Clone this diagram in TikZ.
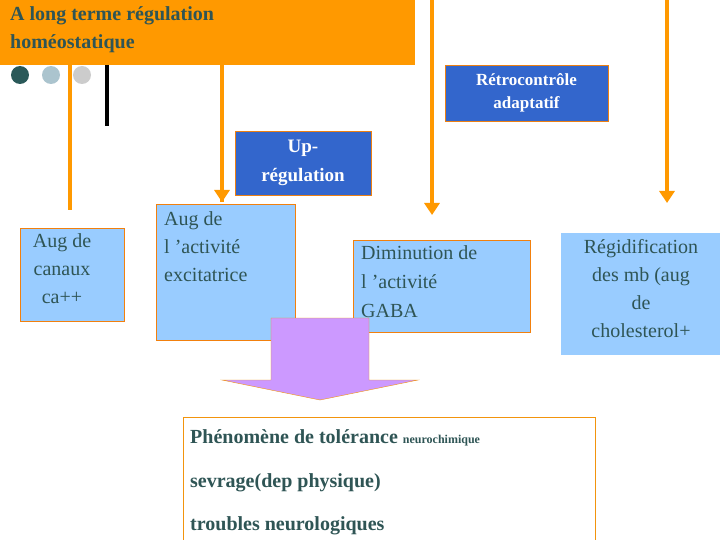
\documentclass[tikz,border=0pt]{standalone}
\usepackage{fontspec}
\setmainfont{Liberation Serif}
\begin{document}
\begin{tikzpicture}[x=1pt,y=-1pt,
  ora/.style={line width=4pt,draw=orange!90!yellow,-{Triangle[length=12pt,width=14pt]}},
  blue box/.style={draw=orange!70!brown,fill=blue!55!cyan!70!black,text=white,font=\bfseries\fontsize{17}{23}\selectfont,align=center,inner sep=0pt},
  lb/.style={draw=orange!80!brown,fill=cyan!30!blue!35,text=txt,font=\fontsize{20}{28}\selectfont,align=center,inner sep=0pt}]
\usetikzlibrary{arrows.meta}
\definecolor{txt}{HTML}{2F5555}
\definecolor{orng}{HTML}{FF9900}
\definecolor{bb}{HTML}{3366CC}
\definecolor{lbf}{HTML}{99CCFF}
\definecolor{vio}{HTML}{CC99FF}
\tikzset{ora/.style={line width=4pt,draw=orng,-{Triangle[length=12pt,width=15pt]}},
 blue box/.append style={fill=bb},lb/.append style={fill=lbf}}
\useasboundingbox (0,0) rectangle (720,540);
\fill[white] (0,0) rectangle (720,540);
% lines behind
\draw[ora,-] (70,0) coordinate (l1a) -- (70,210) coordinate (l1b);
\draw[ora] (222,60) coordinate (l2a) -- (222,202) coordinate (l2b);
\draw[ora] (432,0) coordinate (l3a) -- (432,215) coordinate (l3b);
\draw[ora] (667,0) coordinate (l4a) -- (667,203) coordinate (l4b);
\node[fill=orng,minimum width=415pt,minimum height=65pt,anchor=north west,inner sep=0pt] (title) at (0,0) {};
\node[anchor=north west,text=txt,font=\bfseries\fontsize{20}{28}\selectfont,align=left,inner sep=0pt] (tt) at (10,6) {A long terme régulation\\homéostatique};
\draw[ora,-] (70,65) -- (l1b);
\draw[ora,-] (222,65) -- (l2b);
\draw[line width=4pt] (107,65) coordinate (k1) -- (107,126) coordinate (k2);
\fill[txt!90!teal] (20,75) circle (9) node (c1) {};
\fill[cyan!30!gray!60] (51,75) circle (9) node (c2) {};
\fill[gray!40] (82,75) circle (9) node (c3) {};
\node[blue box,minimum width=163pt,minimum height=56pt] (retro) at (526.5,93) {Rétrocontrôle\\adaptatif};
\node[blue box,minimum width=136pt,minimum height=64pt,font=\bfseries\fontsize{19}{29}\selectfont] (up) at (303,163) {Up-\\régulation};
\node[lb,minimum width=104pt,minimum height=93pt] (a1) at (72,274.5) {};
\node[anchor=north,text=txt,font=\fontsize{20}{28}\selectfont,align=center,inner sep=0pt] at (62,233) {Aug de\\canaux\\ca++};
\node[lb,minimum width=139pt,minimum height=136pt] (a2) at (225.5,272) {};
\node[anchor=north west,text=txt,font=\fontsize{20}{28}\selectfont,align=left,inner sep=0pt] at (164,211) {Aug de\\l ’activité\\excitatrice};
\node[lb,minimum width=177pt,minimum height=92pt] (a3) at (441.5,286) {};
\node[anchor=north west,text=txt,font=\fontsize{20}{29}\selectfont,align=left,inner sep=0pt] at (361,245) {Diminution de\\l ’activité\\GABA};
\node[lb,draw=none,minimum width=160pt,minimum height=122pt] (a4) at (641,294) {};
\node[anchor=north,text=txt,font=\fontsize{20}{28}\selectfont,align=center,inner sep=0pt] at (641,239) {Régidification\\des mb (aug\\de\\cholesterol+};
\draw[draw=orng!80!brown,fill=vio] (271,318) -- (369,318) -- (369,380) -- (418,380) -- (320,400) -- (222,380) -- (271,380) -- cycle;
\node[coordinate] (arr) at (320,400) {};
\node[draw=orng!80!brown,fill=white,minimum width=412pt,minimum height=130pt,anchor=north west,inner sep=0pt] (res) at (183,417) {};
\node[anchor=base west,text=txt,font=\bfseries\fontsize{20}{24}\selectfont,inner sep=0pt] at (190,443) {Phénomène de tolérance {\fontsize{12}{14}\selectfont neurochimique}};
\node[anchor=base west,text=txt,font=\bfseries\fontsize{20}{24}\selectfont,inner sep=0pt] at (190,487) {sevrage(dep physique)};
\node[anchor=base west,text=txt,font=\bfseries\fontsize{20}{24}\selectfont,inner sep=0pt] at (190,530) {troubles neurologiques};
\end{tikzpicture}
\end{document}
